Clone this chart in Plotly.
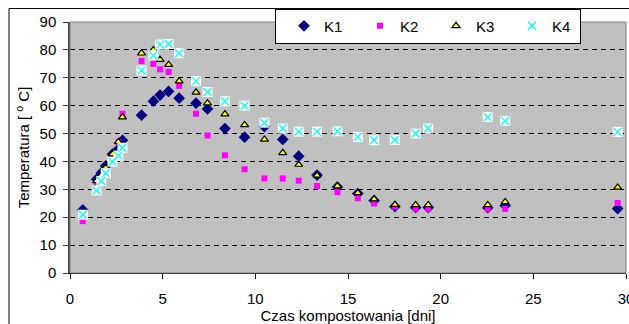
import plotly.graph_objects as go

days = [0.69, 1.44, 1.69, 1.93, 2.29, 2.61, 2.83, 3.86, 4.5, 4.86, 5.32, 5.89, 6.8, 7.42,
        8.36, 9.42, 10.49, 11.48, 12.34, 13.33, 14.43, 15.53, 16.41, 17.53, 18.65, 19.33,
        22.54, 23.48, 29.55]
k1 = [22.6, 33.6, 35.9, 38.4, 42.6, 44.4, 47.6, 56.6, 61.6, 63.8, 65.1, 62.7, 60.9, 58.8,
      51.8, 48.7, 52.5, 47.9, 41.9, 35.1, 30.8, 28.5, 26.0, 23.8, 23.5, 23.5, 23.4, 24.2, 23.1]
k2 = [18.6, 32.0, 34.0, 37.0, 42.0, 47.0, 57.1, 76.0, 75.0, 73.0, 72.1, 67.1, 57.1, 49.3,
      42.2, 37.2, 33.9, 33.9, 33.1, 31.2, 29.0, 26.8, 24.9, 23.8, 23.0, 23.0, 23.0, 23.0, 25.1]
k3 = [21.0, 33.0, 35.0, 37.8, 42.6, 47.0, 55.9, 78.8, 80.0, 76.5, 74.7, 68.8, 64.8, 60.9,
      57.0, 53.1, 47.9, 43.1, 38.9, 35.0, 31.2, 28.7, 26.5, 24.5, 24.4, 24.4, 24.4, 25.5, 30.7]
k4 = [20.9, 29.6, 33.0, 35.8, 39.9, 42.1, 44.9, 72.6, 78.0, 81.9, 82.1, 78.8, 68.8, 64.9,
      61.6, 60.0, 53.9, 51.8, 50.7, 50.7, 50.8, 48.8, 47.6, 47.7, 50.0, 51.8, 55.9, 54.5, 50.6]

series_names = ["K1", "K2", "K3", "K4"]
x_ticks = [0, 5, 10, 15, 20, 25, 30]
y_ticks = [0, 10, 20, 30, 40, 50, 60, 70, 80, 90]

FONT = "Liberation Sans, Arial, sans-serif"

fig = go.Figure()
fig.add_trace(go.Scatter(x=days, y=k1, mode="markers", name=series_names[0],
                         marker=dict(symbol="diamond", size=9, color="#000080",
                                     line=dict(width=0))))
fig.add_trace(go.Scatter(x=days, y=k2, mode="markers", name=series_names[1],
                         marker=dict(symbol="square", size=6, color="#FF00FF",
                                     line=dict(width=0))))
fig.add_trace(go.Scatter(x=days, y=k3, mode="markers", name=series_names[2],
                         marker=dict(symbol="triangle-up", size=7, color="#FFFF00",
                                     line=dict(width=1.2, color="black"))))
fig.add_trace(go.Scatter(x=days, y=k4, mode="markers", showlegend=False, hoverinfo="skip",
                         marker=dict(symbol="square", size=10, color="white",
                                     line=dict(width=0))))
fig.add_trace(go.Scatter(x=days, y=k4, mode="markers", name=series_names[3],
                         marker=dict(symbol="x-thin-open", size=8, color="#00FFFF",
                                     line=dict(width=1.3, color="#00FFFF"))))

pw, ph = 556.0, 251.8
def px2x(p):
    return (p - 70) / pw
def px2y(p):
    return (273.3 - p) / ph

fig.update_layout(
    width=629, height=324,
    margin=dict(l=70, r=3, t=21.5, b=50.7, autoexpand=False),
    paper_bgcolor="white", plot_bgcolor="#C0C0C0",
    font=dict(family=FONT, size=15, color="black"),
    showlegend=True,
    legend=dict(orientation="h", x=px2x(275), y=px2y(8), xanchor="left", yanchor="top",
                bgcolor="white", bordercolor="black", borderwidth=1,
                font=dict(size=15), entrywidth=23, entrywidthmode="pixels",
                tracegroupgap=0, itemwidth=30, indentation=8),
    xaxis=dict(range=[0, 30], tickvals=x_ticks, ticks="outside", ticklen=5,
               tickcolor="black", showline=True, linecolor="black", linewidth=1,
               showgrid=False, zeroline=False, ticklabelstandoff=7,
               ticklabeloverflow="allow",
               title=dict(text="Czas kompostowania [dni]", standoff=11,
                          font=dict(size=15))),
    yaxis=dict(range=[0, 90], tickvals=y_ticks, ticks="outside", ticklen=5,
               tickcolor="#404040", showline=True, linecolor="#404040", linewidth=1.5,
               showgrid=True, gridcolor="black", gridwidth=1, griddash="5px,4px",
               zeroline=False, ticklabelstandoff=4,
               title=dict(text="Temperatura [ <sup>o</sup> C]", standoff=6,
                          font=dict(size=15))),
    shapes=[
        dict(type="rect", xref="paper", yref="paper", x0=0, x1=1, y0=0, y1=1,
             line=dict(color="#808080", width=1), layer="above"),
        dict(type="rect", xref="paper", yref="paper", x0=px2x(9), x1=px2x(700),
             y0=px2y(400), y1=px2y(8), line=dict(color="black", width=1),
             fillcolor="rgba(0,0,0,0)", layer="above"),
    ],
)

fig.write_html("out.html")
